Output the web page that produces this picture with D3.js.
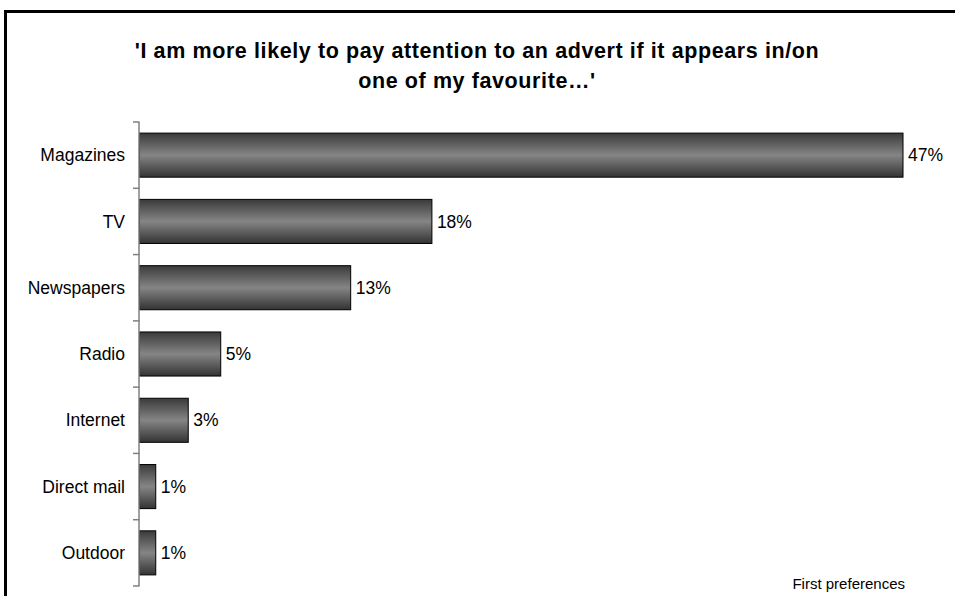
<!DOCTYPE html>
<html>
<head>
<meta charset="utf-8">
<script src="https://cdn.jsdelivr.net/npm/d3@7"></script>
<style>
html,body{margin:0;padding:0;background:#fff;overflow:hidden;}
svg{display:block;font-family:"Liberation Sans",Arial,sans-serif;}
</style>
</head>
<body>
<svg id="chart" width="955" height="596"></svg>
<script>
const categories = ["Magazines","TV","Newspapers","Radio","Internet","Direct mail","Outdoor"];
const values = [47,18,13,5,3,1,1];
const titleLines = ["'I am more likely to pay attention to an advert if it appears in/on","one of my favourite…'"];
const noteText = "First preferences";

const svg = d3.select("#chart");
const W = 955, H = 596;

// frame
svg.append("rect").attr("x",5.5).attr("y",11.5).attr("width",W+10).attr("height",H+10)
  .attr("fill","#fff").attr("stroke","#000").attr("stroke-width",3);

// gradient
const defs = svg.append("defs");
const g = defs.append("linearGradient").attr("id","barGrad").attr("x1",0).attr("y1",0).attr("x2",0).attr("y2",1);
g.append("stop").attr("offset","0%").attr("stop-color","#3a3a3a");
g.append("stop").attr("offset","50%").attr("stop-color","#858585");
g.append("stop").attr("offset","100%").attr("stop-color","#333333");

// title
svg.append("text").attr("text-anchor","middle")
  .style("font-weight","bold").style("font-size","21.5px").style("letter-spacing","0.6px")
  .selectAll("tspan").data(titleLines).join("tspan")
  .attr("x",477).attr("y",(d,i)=>58+i*30).text(d=>d);

const x0 = 139.5;
const x = d3.scaleLinear().domain([0,47]).range([x0,903]);
const y = d3.scaleBand().domain(categories).range([122,586]).paddingInner(0.335).paddingOuter(0.1675);

// bars
svg.append("g").selectAll("rect").data(categories).join("rect")
  .attr("x",x(0)).attr("y",d=>y(d))
  .attr("width",(d,i)=>x(values[i])-x(0)).attr("height",y.bandwidth())
  .attr("fill","url(#barGrad)").attr("stroke","#000").attr("stroke-width",1);

// axis
const axisG = svg.append("g");
axisG.append("line").attr("x1",x0-0.5).attr("x2",x0-0.5).attr("y1",122).attr("y2",586)
  .attr("stroke","#808080").attr("stroke-width",1.5);
const tickYs = d3.range(categories.length+1).map(i=>122+i*(464/categories.length));
axisG.selectAll("line.tick").data(tickYs).join("line").attr("class","tick")
  .attr("x1",133).attr("x2",x0).attr("y1",d=>d).attr("y2",d=>d)
  .attr("stroke","#808080").attr("stroke-width",1.5);

// category labels
svg.append("g").selectAll("text").data(categories).join("text")
  .attr("x",125).attr("y",d=>y(d)+y.bandwidth()/2).attr("dy","0.35em")
  .attr("text-anchor","end").style("font-size","17.5px").attr("fill","#000").text(d=>d);

// value labels
svg.append("g").selectAll("text").data(categories).join("text")
  .attr("x",(d,i)=>x(values[i])+5).attr("y",d=>y(d)+y.bandwidth()/2).attr("dy","0.35em")
  .style("font-size","17.5px").attr("fill","#000").text((d,i)=>values[i]+"%");

// note
svg.append("text").attr("x",905).attr("y",584).attr("dy","0.35em").attr("text-anchor","end")
  .style("font-size","15px").text(noteText);
</script>
</body>
</html>
